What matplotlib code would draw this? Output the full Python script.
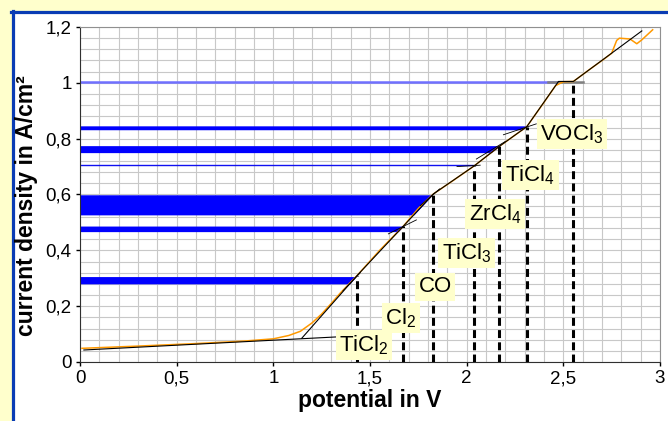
import numpy as np
import matplotlib
matplotlib.use('Agg')
import matplotlib.pyplot as plt
from matplotlib.patches import Rectangle
from matplotlib.lines import Line2D
from matplotlib.ticker import MultipleLocator, FuncFormatter

plt.rcParams['font.family'] = ['Liberation Sans', 'DejaVu Sans']
plt.rcParams['mathtext.fontset'] = 'custom'
plt.rcParams['mathtext.rm'] = 'Liberation Sans'
plt.rcParams['mathtext.it'] = 'Liberation Sans'

# measured polarisation curve (orange)
pot = [0.01, 0.3, 0.6, 0.85, 1.0, 1.08, 1.14, 1.2, 1.25, 1.3, 1.345, 1.431, 1.55, 1.673,
       1.75, 1.828, 1.93, 2.038, 2.168, 2.311, 2.40, 2.46, 2.50, 2.552, 2.64, 2.716,
       2.75, 2.776, 2.79, 2.845, 2.88, 2.906, 2.962]
cur = [0.049, 0.057, 0.066, 0.075, 0.083, 0.095, 0.11, 0.14, 0.172, 0.21, 0.246, 0.308,
       0.40, 0.487, 0.55, 0.602, 0.65, 0.702, 0.772, 0.843, 0.93, 0.99, 1.004, 1.005,
       1.05, 1.088, 1.106, 1.152, 1.16, 1.157, 1.14, 1.154, 1.19]

# linear fit (black)
fit_pot = [1.147, 1.431, 1.673, 1.828, 2.038, 2.168, 2.311, 2.475, 2.552, 2.906]
fit_cur = [0.085, 0.308, 0.487, 0.602, 0.702, 0.772, 0.843, 1.005, 1.005, 1.186]
base_pot = [0.02, 1.36]
base_cur = [0.043, 0.091]

# short tangents crossing at the kinks
tan_pot = [[1.36, 1.45], [1.595, 1.74], [1.76, 1.86], [1.95, 2.07], [2.05, 2.20], [2.19, 2.36]]
tan_cur = [[0.255, 0.32], [0.459, 0.509], [0.56, 0.62], [0.70, 0.705], [0.727, 0.79], [0.814, 0.853]]

# decomposition potentials
species = ['TiCl$_\\mathrm{2}$', 'Cl$_\\mathrm{2}$', 'CO', 'TiCl$_\\mathrm{3}$',
           'ZrCl$_\\mathrm{4}$', 'TiCl$_\\mathrm{4}$', 'VOCl$_\\mathrm{3}$']
lab_x = [1.469, 1.66, 1.837, 2.0, 2.147, 2.328, 2.544]
lab_y = [0.061, 0.158, 0.269, 0.39, 0.53, 0.67, 0.817]
dec_pot = [1.435, 1.669, 1.828, 2.038, 2.169, 2.311, 2.552]
dec_cur = [0.308, 0.487, 0.602, 0.702, 0.772, 0.843, 1.005]

# horizontal bands (current ranges)
band_lo = [0.28, 0.467, 0.527, 0.75, 0.832]
band_hi = [0.306, 0.487, 0.599, 0.775, 0.846]
line_cur = [0.705, 1.004]

fig = plt.figure(figsize=(6.68, 4.21), dpi=100)
fig.patch.set_facecolor('#FFFFCC')
W, H = 668., 421.
fig.patches.append(Rectangle((13 / W, 0), 1, 1 - 12 / H, transform=fig.transFigure,
                             facecolor='white', edgecolor='none', zorder=-2))
fig.lines.append(Line2D([11 / W, 1], [1 - 12 / H, 1 - 12 / H], transform=fig.transFigure,
                        color='#0A3CB4', lw=2.3, zorder=-1))
fig.lines.append(Line2D([13 / W, 13 / W], [0, 1 - 11 / H], transform=fig.transFigure,
                        color='#0A3CB4', lw=2.3, zorder=-1))

ax = fig.add_axes([80 / W, 1 - 362 / H, 580 / W, 335 / H])
ax.set_zorder(1)
ax.set_facecolor('white')
ax.set_xlim(0, 3)
ax.set_ylim(0, 1.2)
ax.xaxis.set_major_locator(MultipleLocator(0.5))
ax.xaxis.set_minor_locator(MultipleLocator(0.1))
ax.yaxis.set_major_locator(MultipleLocator(0.2))
ax.yaxis.set_minor_locator(MultipleLocator(0.04))
fmt = FuncFormatter(lambda v, p: ('%g' % round(v, 2)).replace('.', ','))
ax.xaxis.set_major_formatter(fmt)
ax.yaxis.set_major_formatter(fmt)
ax.grid(which='both', color='#C8C8C8', lw=0.8, zorder=0)
ax.set_axisbelow(True)
ax.tick_params(which='major', direction='out', length=3, width=1, labelsize=13.5, pad=3)
ax.tick_params(which='minor', length=0)
for s in ['top', 'right']:
    ax.spines[s].set_color('#909090')
for s in ['left', 'bottom']:
    ax.spines[s].set_color('#303030')

for lo, hi in zip(band_lo, band_hi):
    yy = np.linspace(lo, hi, 20)
    ax.fill_betweenx(yy, 0, np.interp(yy, fit_cur, fit_pot), color='#0000FF', lw=0, zorder=2)
ax.plot([0, np.interp(line_cur[0], fit_cur[:7], fit_pot[:7])], [line_cur[0]] * 2,
        color='#1010F0', lw=1, zorder=2)
ax.plot([0, 2.48], [line_cur[1]] * 2, color='#7070FF', lw=1.8, zorder=2)
ax.plot([2.42, 2.6], [line_cur[1]] * 2, color='#808080', lw=1.8, zorder=2)

ax.plot(pot, cur, color='#FF9900', lw=1.1, zorder=3)
ax.plot(fit_pot, fit_cur, color='black', lw=0.8, zorder=4)
ax.plot(base_pot, base_cur, color='black', lw=0.8, zorder=4)
for tx, ty in zip(tan_pot, tan_cur):
    ax.plot(tx, ty, color='black', lw=0.6, zorder=4)

for xp, yp in zip(dec_pot, dec_cur):
    ax.plot([xp, xp], [0, yp], color='black', lw=2.2, dashes=(2.6, 1.4), zorder=5)

for name, lx, ly in zip(species, lab_x, lab_y):
    ax.text(lx, ly, name, fontsize=16, ha='center', va='center', zorder=6,
            bbox=dict(facecolor='#FFFFCC', edgecolor='none', pad=2.5))

ax.set_xlabel('potential in V', fontsize=16.5, fontweight='bold', labelpad=1)
ax.set_ylabel('current density in A/cm²', fontsize=16.5, fontweight='bold')
ax.yaxis.set_label_coords(-0.0724, 0.466)

fig.savefig('out.png', dpi=100, facecolor=fig.get_facecolor())
